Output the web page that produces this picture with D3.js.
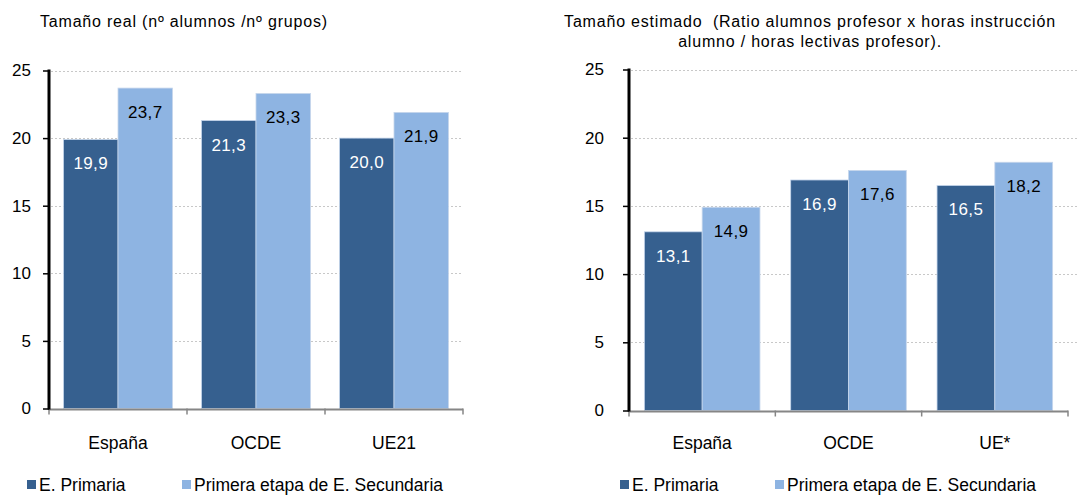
<!DOCTYPE html>
<html><head><meta charset="utf-8">
<script src="https://cdn.jsdelivr.net/npm/d3@7"></script>
<style>
html,body{margin:0;padding:0;background:#fff;}
svg{display:block;font-family:"Liberation Sans",Arial,sans-serif;}
.title{white-space:pre;}
</style></head>
<body>
<svg id="chart" width="1078" height="496"></svg>
<script>
const seriesNames = ["E. Primaria", "Primera etapa de E. Secundaria"];
const categoriesLeft = ["España", "OCDE", "UE21"];
const primariaLeft = [19.9, 21.3, 20.0];
const secundariaLeft = [23.7, 23.3, 21.9];
const categoriesRight = ["España", "OCDE", "UE*"];
const primariaRight = [13.1, 16.9, 16.5];
const secundariaRight = [14.9, 17.6, 18.2];
const yTicks = [0, 5, 10, 15, 20, 25];
const titleLeft = ["Tamaño real (nº alumnos /nº grupos)"];
const titleRight = ["Tamaño estimado  (Ratio alumnos profesor x horas instrucción", "alumno / horas lectivas profesor)."];

const colors = ["#36608F", "#8EB4E2"];
const labelColors = ["#ffffff", "#000000"];
const svg = d3.select("#chart");
const fmt = v => v.toFixed(1).replace(".", ",");

function panel(cfg) {
  const g = svg.append("g");
  const y = d3.scaleLinear().domain([0, 25]).range([cfg.y0, cfg.y25]);
  const x = d3.scaleBand().domain(cfg.categories).range([cfg.x0, cfg.x1]).padding(0);
  const bw = x.bandwidth();
  const xs = d3.scaleBand().domain([0, 1]).range([bw * 0.105, bw * 0.895]).padding(0);

  // gridlines
  g.append("g").selectAll("line").data(yTicks.filter(t => t > 0)).join("line")
    .attr("x1", cfg.x0 + 2).attr("x2", cfg.gridEnd)
    .attr("y1", d => Math.round(y(d)) + 0.5).attr("y2", d => Math.round(y(d)) + 0.5)
    .attr("stroke", "#c8c8c8").attr("stroke-width", 1).attr("stroke-dasharray", "2,2");

  // bars
  const data = cfg.categories.map((c, i) => ({ c, vals: [cfg.prim[i], cfg.sec[i]] }));
  const grp = g.append("g").selectAll("g").data(data).join("g")
    .attr("transform", d => `translate(${x(d.c)},0)`);
  grp.selectAll("rect").data(d => d.vals.map((v, k) => ({ v, k }))).join("rect")
    .attr("x", d => xs(d.k)).attr("width", xs.bandwidth())
    .attr("y", d => y(d.v)).attr("height", d => y(0) - y(d.v))
    .attr("fill", d => colors[d.k]).attr("stroke", "#c6d6ec").attr("stroke-width", 0.8);
  grp.selectAll("text").data(d => d.vals.map((v, k) => ({ v, k }))).join("text")
    .attr("x", d => xs(d.k) + xs.bandwidth() / 2).attr("y", d => y(d.v) + 30)
    .attr("text-anchor", "middle").attr("font-size", 17).attr("letter-spacing", 0.4)
    .attr("fill", d => labelColors[d.k]).text(d => fmt(d.v));

  // x axis
  g.append("line").attr("x1", cfg.x0).attr("x2", cfg.x1).attr("y1", y(0) + 1).attr("y2", y(0) + 1)
    .attr("stroke", "#868686").attr("stroke-width", 2);
  const bounds = cfg.categories.map(c => x(c)).concat([cfg.x1]);
  g.append("g").selectAll("line").data(bounds).join("line")
    .attr("x1", d => d).attr("x2", d => d).attr("y1", y(0)).attr("y2", y(0) + 6)
    .attr("stroke", "#868686").attr("stroke-width", 1.5);
  g.append("g").selectAll("text").data(cfg.categories).join("text")
    .attr("x", d => x(d) + bw / 2).attr("y", cfg.catY)
    .attr("text-anchor", "middle").attr("font-size", 17.5).attr("fill", "#000").text(d => d);

  // y axis
  const yAxis = d3.axisLeft(y).tickValues(yTicks).tickSize(6).tickPadding(cfg.tickPad).tickFormat(d3.format("d"));
  const ya = g.append("g").attr("transform", `translate(${cfg.x0},0)`).call(yAxis);
  ya.select(".domain").attr("stroke", "#000").attr("stroke-width", 3).attr("d", `M0,${y(25) - 1}V${y(0) + 1}`);
  ya.selectAll(".tick line").attr("stroke", "#000").attr("stroke-width", 1.5);
  ya.selectAll(".tick text").attr("font-size", 17).attr("fill", "#000").attr("font-family", "Liberation Sans, Arial, sans-serif");

  // title
  const t = g.append("text").attr("class", "title").attr("font-size", 16).attr("letter-spacing", 0.8).attr("fill", "#000").attr("text-anchor", cfg.titleAnchor);
  cfg.title.forEach((line, i) => {
    t.append("tspan").attr("x", cfg.titleX).attr("y", 27 + i * 20).text(line);
  });

  // legend
  const lg = g.append("g");
  seriesNames.forEach((s, k) => {
    lg.append("rect").attr("x", cfg.legX[k]).attr("y", 480).attr("width", 9).attr("height", 9).attr("fill", colors[k]);
    lg.append("text").attr("x", cfg.legX[k] + 12).attr("y", 491).attr("font-size", 17.5).attr("fill", "#000").text(s);
  });
}

panel({ categories: categoriesLeft, prim: primariaLeft, sec: secundariaLeft,
  x0: 49, x1: 463, gridEnd: 463, y0: 408.5, y25: 70.5, tickPad: 12, catY: 449,
  title: titleLeft, titleX: 40, titleAnchor: "start", legX: [27, 182] });
panel({ categories: categoriesRight, prim: primariaRight, sec: secundariaRight,
  x0: 629, x1: 1068, gridEnd: 1078, y0: 410.5, y25: 69.5, tickPad: 19, catY: 449,
  title: titleRight, titleX: 810, titleAnchor: "middle", legX: [620, 775] });
</script>
</body></html>
